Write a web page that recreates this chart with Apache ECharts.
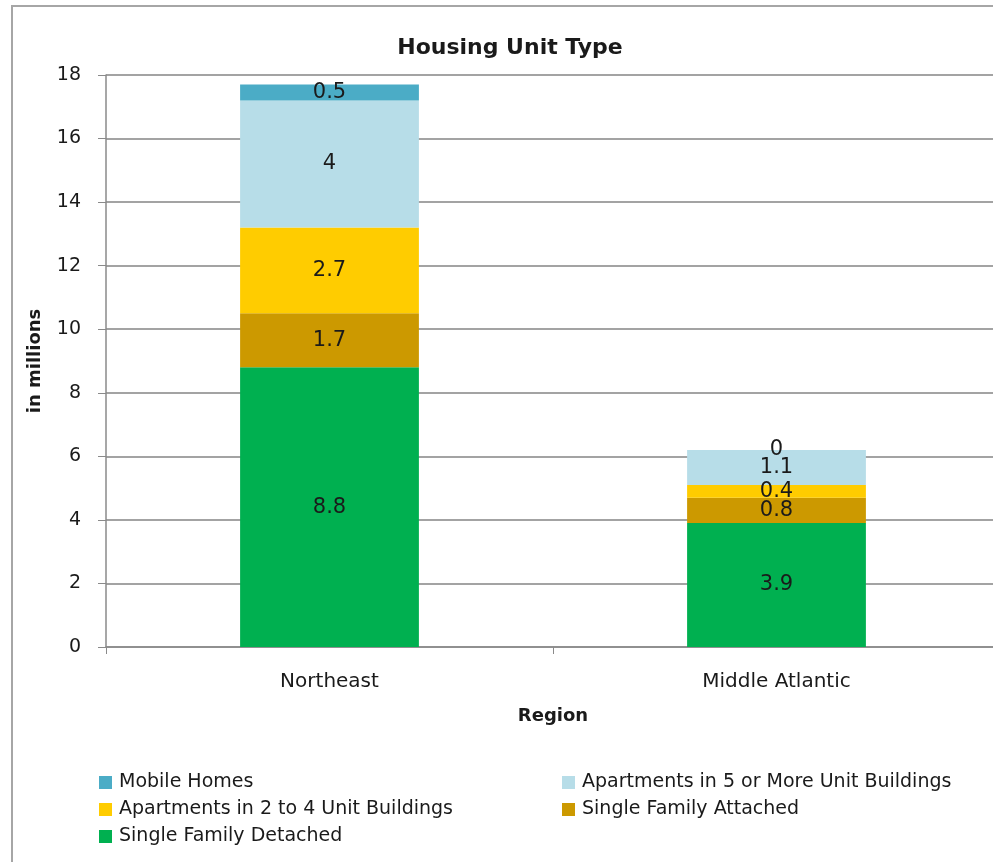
<!DOCTYPE html>
<html>
<head>
<meta charset="utf-8">
<title>Housing Unit Type</title>
<script src="https://cdn.jsdelivr.net/npm/echarts@6/dist/echarts.min.js"></script>
<style>
  html, body { margin: 0; padding: 0; background: #fff; }
  #chart { width: 993px; height: 862px; }
</style>
</head>
<body>
<div id="chart"></div>
<script>
// data (in millions)
const regions = ['Northeast', 'Middle Atlantic']
const singleDetached = [8.8, 3.9]
const singleAttached = [1.7, 0.8]
const apts2to4 = [2.7, 0.4]
const apts5plus = [4, 1.1]
const mobileHomes = [0.5, 0]
const yTicks = { min: 0, max: 18, interval: 2 }

const font = '"DejaVu Sans", Lato, sans-serif'
const textColor = '#1a1a1a'
const gridGray = '#a3a3a3'

function stackSeries (name, data, color) {
  return {
    name: name,
    type: 'bar',
    stack: 'total',
    data: data,
    barWidth: '40%',
    itemStyle: { color: color },
    label: {
      show: true,
      position: 'inside',
      color: textColor,
      fontSize: 21,
      fontFamily: font
    }
  }
}

const legendText = { fontSize: 19, fontFamily: font, color: textColor, padding: [0, 0, 0, 2] }

const option = {
  animation: false,
  backgroundColor: '#fff',
  graphic: [{
    type: 'rect',
    shape: { x: 12, y: 6, width: 1000, height: 900 },
    style: { fill: 'none', stroke: '#a6a6a6', lineWidth: 2 },
    silent: true
  }],
  title: {
    text: 'Housing Unit Type',
    left: 505,
    top: 32,
    textAlign: 'center',
    textStyle: { fontSize: 22, fontWeight: 'bold', fontFamily: font, color: textColor }
  },
  legend: [{
    orient: 'vertical',
    left: 94,
    top: 768,
    itemWidth: 13,
    itemHeight: 13,
    itemGap: 8,
    icon: 'rect',
    textStyle: legendText,
    data: ['Mobile Homes', 'Apartments in 2 to 4 Unit Buildings', 'Single Family Detached']
  }, {
    orient: 'vertical',
    left: 557,
    top: 768,
    itemWidth: 13,
    itemHeight: 13,
    itemGap: 8,
    icon: 'rect',
    textStyle: legendText,
    data: ['Apartments in 5 or More Unit Buildings', 'Single Family Attached']
  }],
  grid: {
    left: 106,
    top: 75,
    width: 894,
    height: 572,
    outerBoundsMode: 'none'
  },
  xAxis: {
    type: 'category',
    data: regions,
    name: 'Region',
    nameLocation: 'middle',
    nameGap: 60,
    nameTextStyle: { fontSize: 18, fontWeight: 'bold', fontFamily: font, color: textColor },
    axisLine: { lineStyle: { color: '#8a8a8a', width: 1.5 } },
    axisTick: { show: true, length: 7, lineStyle: { color: '#8a8a8a' } },
    axisLabel: { margin: 25, fontSize: 20, fontFamily: font, color: textColor }
  },
  yAxis: {
    type: 'value',
    min: yTicks.min,
    max: yTicks.max,
    interval: yTicks.interval,
    name: 'in millions',
    nameLocation: 'middle',
    nameGap: 62,
    nameTextStyle: { fontSize: 18, fontWeight: 'bold', fontFamily: font, color: textColor },
    axisLine: { show: true, lineStyle: { color: '#8a8a8a', width: 1.5 } },
    axisTick: { show: true, length: 8, lineStyle: { color: '#8a8a8a' } },
    axisLabel: { margin: 25, fontSize: 19, fontFamily: font, color: textColor },
    splitLine: { lineStyle: { color: gridGray, width: 2 } }
  },
  series: [
    stackSeries('Single Family Detached', singleDetached, '#00b050'),
    stackSeries('Single Family Attached', singleAttached, '#cc9900'),
    stackSeries('Apartments in 2 to 4 Unit Buildings', apts2to4, '#ffcc00'),
    stackSeries('Apartments in 5 or More Unit Buildings', apts5plus, '#b7dde8'),
    stackSeries('Mobile Homes', mobileHomes, '#4bacc6')
  ]
}

const myChart = echarts.init(document.getElementById('chart'))
myChart.setOption(option, true)
window.addEventListener('resize', function () {
  myChart.resize()
})
</script>
</body>
</html>
